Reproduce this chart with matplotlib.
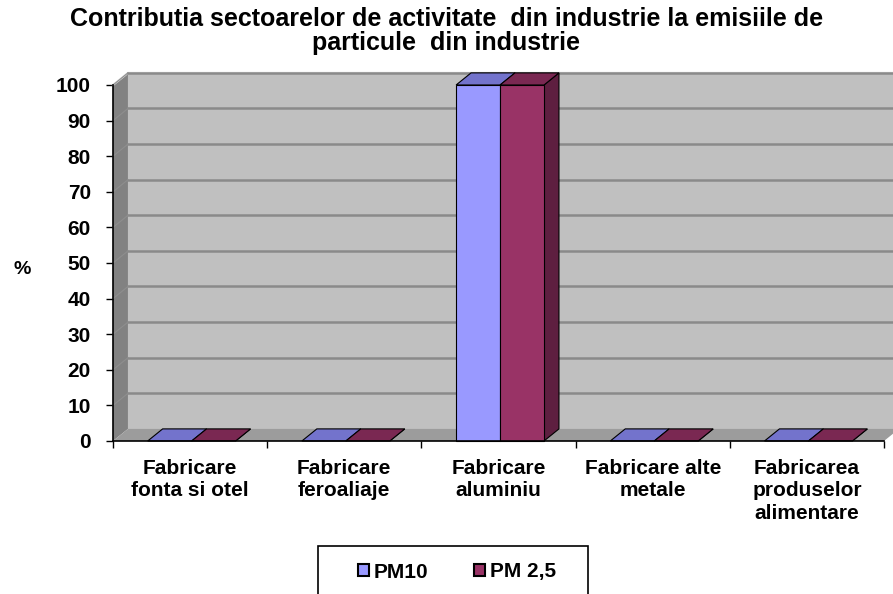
import matplotlib
matplotlib.use('Agg')
import matplotlib.pyplot as plt
from matplotlib.patches import Polygon, Rectangle, Patch

plt.rcParams['font.family'] = ['Liberation Sans', 'DejaVu Sans']
plt.rcParams['font.weight'] = 'bold'

# ── data ──────────────────────────────────────────────────────────────────────
categories = ['Fabricare\nfonta si otel', 'Fabricare\nferoaliaje', 'Fabricare\naluminiu',
              'Fabricare alte\nmetale', 'Fabricarea\nproduselor\nalimentare']
pm10 = [0, 0, 100, 0, 0]
pm25 = [0, 0, 100, 0, 0]
series_names = ['PM10', 'PM 2,5']
yticks = list(range(0, 101, 10))

# ── style ─────────────────────────────────────────────────────────────────────
DX, DY = 0.097, 3.4          # pseudo-3D depth offset in data units
BAR_W = 0.285
WALL = '#c0c0c0'
SIDE = '#828282'
FLOOR = '#9c9c9c'
GRID = '#8a8a8a'
COLS = {'PM10': ('#9999ff', '#7373cc', '#5c5ca8'),
        'PM 2,5': ('#993366', '#7a2852', '#5e1f40')}

fig = plt.figure(figsize=(8.93, 5.94), dpi=100)
ax = fig.add_axes([113 / 893, (594 - 441) / 594, 771 / 893, 356 / 594])
ax.set_xlim(-0.5, 4.5)
ax.set_ylim(0, 100)
x0, x1 = -0.5, 4.5

# walls
ax.add_patch(Polygon([(x0, 0), (x0, 100), (x0 + DX, 100 + DY), (x0 + DX, DY)],
                     closed=True, fc=SIDE, ec='none', clip_on=False, zorder=1))
ax.add_patch(Polygon([(x0 + DX, DY), (x1 + DX, DY), (x1 + DX, 100 + DY), (x0 + DX, 100 + DY)],
                     closed=True, fc=WALL, ec='none', clip_on=False, zorder=1))
ax.plot([x0, x0 + DX, x1 + DX], [100, 100 + DY, 100 + DY], color='#dcdcdc', lw=1.5,
        clip_on=False, zorder=2)
for y in yticks[1:]:
    ax.plot([x0 + DX, x1 + DX], [y + DY, y + DY], color=GRID, lw=1.8, clip_on=False, zorder=2)
    ax.plot([x0, x0 + DX], [y, y + DY], color='#8e8e8e', lw=0.8, clip_on=False, zorder=2)
ax.add_patch(Polygon([(x0, 0), (x1, 0), (x1 + DX, DY), (x0 + DX, DY)],
                     closed=True, fc=FLOOR, ec='none', clip_on=False, zorder=2))


def bar3d(xl, h, name):
    front, top, side = COLS[name]
    xr = xl + BAR_W
    kw = dict(closed=True, ec='black', lw=0.8, clip_on=False, zorder=3)
    ax.add_patch(Polygon([(xr, 0), (xr + DX, DY), (xr + DX, h + DY), (xr, h)], fc=side, **kw))
    ax.add_patch(Polygon([(xl, h), (xr, h), (xr + DX, h + DY), (xl + DX, h + DY)], fc=top, **kw))
    if h > 0:
        ax.add_patch(Polygon([(xl, 0), (xr, 0), (xr, h), (xl, h)], fc=front, **kw))


for i, (a, b) in enumerate(zip(pm10, pm25)):
    c = i + 0.01
    bar3d(c - BAR_W, a, 'PM10')
    bar3d(c, b, 'PM 2,5')

# axes
for s in ['top', 'right']:
    ax.spines[s].set_visible(False)
ax.spines['left'].set_zorder(4)
ax.spines['bottom'].set_zorder(4)
ax.spines['left'].set_linewidth(1.2)
ax.spines['bottom'].set_linewidth(1.2)
ax.set_yticks(yticks)
ax.set_yticklabels([str(v) for v in yticks], fontsize=15, fontweight='bold')
ax.tick_params(axis='y', length=5, width=1, pad=11)
ax.set_xticks(range(len(categories)))
ax.set_xticklabels(categories, fontsize=15, fontweight='bold', linespacing=1.22)
ax.set_xticks([i - 0.5 for i in range(len(categories) + 1)], minor=True)
ax.tick_params(axis='x', which='major', length=0, pad=13)
ax.tick_params(axis='x', which='minor', length=5, width=1)

fig.text(22 / 893, 1 - 270 / 594, '%', ha='center', va='center', fontsize=14, fontweight='bold')

fig.text(0.5, 1 - 19 / 594, 'Contributia sectoarelor de activitate  din industrie la emisiile de',
         ha='center', va='center', fontsize=18, fontweight='bold')
fig.text(0.5, 1 - 43 / 594, 'particule  din industrie',
         ha='center', va='center', fontsize=18, fontweight='bold')

# legend (frame runs off the bottom edge)
fig.patches.append(Rectangle((318 / 893, -0.05), 270 / 893, (594 - 546) / 594 + 0.05,
                             transform=fig.transFigure, fc='white', ec='black', lw=1.2))
handles = [Patch(fc=COLS[n][0], ec='black', lw=1.5) for n in series_names]
fig.legend(handles, series_names, loc='center', bbox_to_anchor=(457 / 893, 1 - 572 / 594),
           ncol=2, frameon=False, prop={'size': 15, 'weight': 'bold'},
           handlelength=0.5, handleheight=0.5, handletextpad=0.25, columnspacing=2.2)

fig.savefig('out.png', dpi=100)
